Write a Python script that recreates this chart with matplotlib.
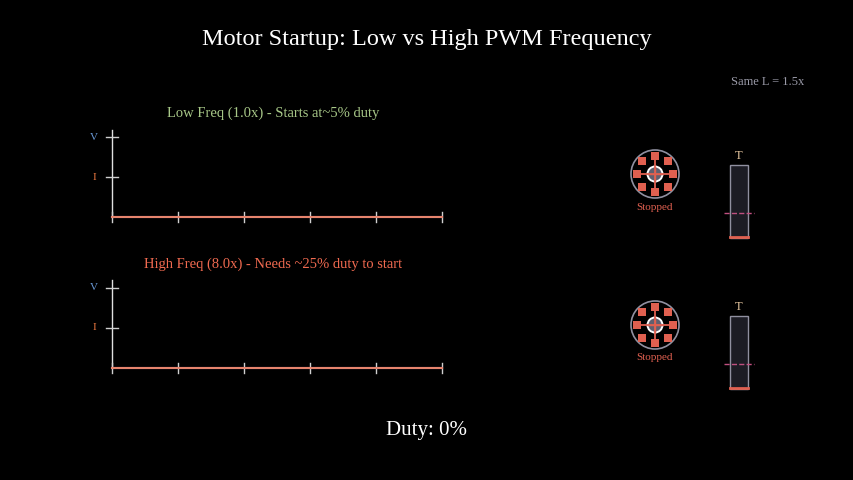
import numpy as np
import matplotlib.pyplot as plt
from matplotlib.patches import Circle, Rectangle

plt.rcParams['font.family'] = ['Liberation Serif', 'DejaVu Serif']

# data (everything is at zero: duty 0%, motors stopped)
duty = 0
t_ticks = [0, 1, 2, 3, 4, 5]
v_low = [0, 0, 0, 0, 0, 0]
i_low = [0, 0, 0, 0, 0, 0]
v_high = [0, 0, 0, 0, 0, 0]
i_high = [0, 0, 0, 0, 0, 0]
panels = [
    ("Low Freq (1.0x) - Starts at~5% duty", '#a8c888', v_low, i_low, 217, 130),
    ("High Freq (8.0x) - Needs ~25% duty to start", '#f06a50', v_high, i_high, 368, 280),
]

fig = plt.figure(figsize=(8.54, 4.8), dpi=100, facecolor='black')
ax = fig.add_axes([0, 0, 1, 1])
ax.set_xlim(0, 854)
ax.set_ylim(480, 0)
ax.axis('off')
ax.set_facecolor('black')

ax.text(427, 40, "Motor Startup: Low vs High PWM Frequency", color='white',
        fontsize=17.5, ha='center', va='center')
ax.text(768, 82, "Same L = 1.5x", color='#9a9aa8', fontsize=9, ha='center', va='center')
ax.text(427, 430, f"Duty: {duty}%", color='white', fontsize=15, ha='center', va='center')

x0, x1 = 112, 442
for title, tcol, v, cur, base, top in panels:
    ax.text(273, base - 104, title, color=tcol, fontsize=10.5, ha='center', va='center')
    ax.plot([x0, x0], [base, top], color='#e0e0e0', lw=1)
    xs = [x0 + (x1 - x0) * t / t_ticks[-1] for t in t_ticks]
    yv = base - 80
    yi = base - 40
    for xx in xs:
        ax.plot([xx, xx], [base - 5, base + 5], color='#d0d0d0', lw=1)
    for yy, lab, c in [(yv, 'V', '#6a9ad8'), (yi, 'I', '#f07a40')]:
        ax.plot([x0 - 6, x0 + 6], [yy, yy], color='#d0d0d0', lw=1)
        ax.text(x0 - 18, yy, lab, color=c, fontsize=8, ha='center', va='center')
    ax.plot(xs, [base - 80 * a for a in v], color='#c070e0', lw=1.5)
    ax.plot(xs, [base - 40 * a for a in cur], color='#f08a50', lw=1.5, alpha=0.8)

    # motor icon
    cy = base - 43
    cx = 655
    ax.add_patch(Circle((cx, cy), 24, fc='black', ec='#9090a0', lw=1.2))
    ax.plot([cx - 20, cx + 20], [cy, cy], color='#e06050', lw=1.3)
    ax.plot([cx, cx], [cy - 20, cy + 20], color='#e06050', lw=1.3)
    for a in np.arange(8) * np.pi / 4:
        ax.add_patch(Rectangle((cx + 18 * np.cos(a) - 4, cy + 18 * np.sin(a) - 4), 8, 8,
                               fc='#e06050', ec='none'))
    ax.add_patch(Circle((cx, cy), 7.5, fc='#606070', ec='white', lw=1.4))
    ax.plot([cx - 7, cx + 7], [cy, cy], color='#e06050', lw=1)
    ax.plot([cx, cx], [cy - 7, cy + 7], color='#e06050', lw=1)
    ax.text(cx, cy + 33, "Stopped", color='#e06050', fontsize=8, ha='center', va='center')

    # torque bar
    bt = base - 52
    ax.add_patch(Rectangle((730, bt), 18, 73, fc='#1c1c24', ec='#9090a0', lw=1))
    ax.plot([730, 748], [bt + 72, bt + 72], color='#e06050', lw=2)
    ax.plot([724, 754], [bt + 48, bt + 48], color='#c05080', lw=1, ls='--')
    ax.text(739, bt - 9, "T", color='#e8c8a0', fontsize=9, ha='center', va='center')

fig.savefig('out.png', dpi=100, facecolor='black')
